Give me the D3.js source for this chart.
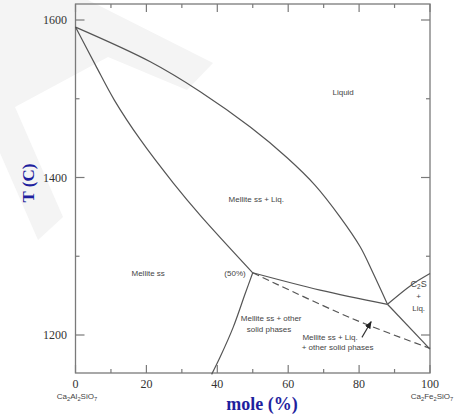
<!DOCTYPE html>
<html><head><meta charset="utf-8">
<script src="https://cdn.jsdelivr.net/npm/d3@7/dist/d3.min.js"></script>
<style>body{margin:0;background:#fff}svg{display:block}</style>
</head><body>
<script>
// ---- data (mole % Ca2Fe2SiO7, T in C) ----
const liquidus = [[0,1591],[21.1,1547],[35.2,1509],[49.3,1464],[59.7,1425],[67.6,1390],[74.6,1350],[80.3,1312],[83.9,1279],[88,1239]];
const solidus = [[0,1591],[5.6,1543],[11,1498],[18.3,1448],[27.6,1393],[35.2,1352],[50,1279]];
const peritecticLine = [[50,1279],[69,1257],[88,1239]];
const dashedLine = [[50,1279],[78,1221],[100,1183]];
const eutecticRight = [[88,1239],[100,1182]];
const c2sLiquidus = [[88,1239],[94.6,1263],[100,1278]];
const solvus = [[50,1279],[47.9,1253],[44.5,1210],[40.8,1172],[38.4,1150]];
const arrowPts = [[80.8,1197],[83.4,1217]];
const xTicks = [0,10,20,30,40,50,60,70,80,90,100];
const xTickLabels = [0,20,40,60,80,100];
const yTicks = [1200,1300,1400,1500,1600];
const yTickLabels = [1200,1400,1600];
const regionLabels = [
  {t:"Liquid", x:75.5, y:1509, a:"middle"},
  {t:"Mellite ss + Liq.", x:51, y:1373, a:"middle"},
  {t:"Mellite ss", x:20.5, y:1279, a:"middle"},
  {t:"(50%)", x:45, y:1279, a:"middle"},
  {t:"Mellite ss + other", x:55.2, y:1221, a:"middle"},
  {t:"solid phases", x:54.6, y:1207, a:"middle"},
  {t:"Mellite ss + Liq.", x:64, y:1198, a:"start"},
  {t:"+ other solid phases", x:63.8, y:1185, a:"start"},
  {t:"+", x:96.8, y:1250, a:"middle"},
  {t:"Liq.", x:96.8, y:1234, a:"middle"}
];

const W=464,H=415;
const svg=d3.select("body").append("svg").attr("width",W).attr("height",H);

// watermark
svg.append("polygon")
  .attr("points",[[0,0],[88,0],[213,63],[187,90],[108,57],[15,107],[63,217],[38,240],[0,153]].map(p=>p.join(",")).join(" "))
  .attr("fill","#f4f4f4");

const x=d3.scaleLinear().domain([0,100]).range([75.5,430]);
const y=d3.scaleLinear().domain([1200,1600]).range([335,20]);
const yTop=y.invert(4), yBot=y.invert(373);

const gray="#7a7a7a";
// frame
svg.append("rect").attr("x",x(0)).attr("y",y(yTop)).attr("width",x(100)-x(0)).attr("height",y(yBot)-y(yTop))
  .attr("fill","none").attr("stroke",gray).attr("stroke-width",1.3);

// ticks
const tk=svg.append("g").attr("stroke",gray).attr("stroke-width",1.2);
xTicks.forEach(v=>{
  const len = v%20===0?8:4;
  tk.append("line").attr("x1",x(v)).attr("x2",x(v)).attr("y1",y(yBot)).attr("y2",y(yBot)-len);
  tk.append("line").attr("x1",x(v)).attr("x2",x(v)).attr("y1",y(yTop)).attr("y2",y(yTop)+len);
});
yTicks.forEach(v=>{
  const len = v%200===0?9:4;
  tk.append("line").attr("x1",x(0)).attr("x2",x(0)+len).attr("y1",y(v)).attr("y2",y(v));
  tk.append("line").attr("x1",x(100)).attr("x2",x(100)-len).attr("y1",y(v)).attr("y2",y(v));
});

const serif="'Liberation Serif','DejaVu Serif',serif";
const sans="'Liberation Sans',Arial,sans-serif";
xTickLabels.forEach(v=>{
  svg.append("text").attr("x",x(v)).attr("y",388).attr("text-anchor","middle")
    .attr("font-family",serif).attr("font-size",12).attr("fill","#333").text(v);
});
yTickLabels.forEach(v=>{
  svg.append("text").attr("x",67).attr("y",y(v)+4).attr("text-anchor","end")
    .attr("font-family",serif).attr("font-size",12).attr("fill","#333").text(v);
});

// formula labels with subscripts
function formula(cx,cy,parts,fs){
  const t=svg.append("text").attr("x",cx).attr("y",cy).attr("text-anchor","middle")
    .attr("font-family",sans).attr("font-size",fs).attr("fill","#444");
  parts.forEach(p=>{
    const s=t.append("tspan").text(p.s);
    if(p.sub) s.attr("font-size",fs*0.72).attr("baseline-shift","-25%");
  });
}
formula(77,399,[{s:"Ca"},{s:"2",sub:1},{s:"Al"},{s:"2",sub:1},{s:"SiO"},{s:"7",sub:1}],8);
formula(432,399,[{s:"Ca"},{s:"2",sub:1},{s:"Fe"},{s:"2",sub:1},{s:"SiO"},{s:"7",sub:1}],8);
formula(x(96.8),y(1265)+3,[{s:"C"},{s:"2",sub:1},{s:"S"}],9);

// axis titles
svg.append("text").attr("x",262).attr("y",410).attr("text-anchor","middle")
  .attr("font-family",serif).attr("font-weight","bold").attr("font-size",18).attr("fill","#1f1f9e").text("mole (%)");
svg.append("text").attr("transform","translate(34,183) rotate(-90)").attr("text-anchor","middle")
  .attr("font-family",serif).attr("font-weight","bold").attr("font-size",17).attr("fill","#1f1f9e").text("T (C)");

// curves
const line=d3.line().x(d=>x(d[0])).y(d=>y(d[1])).curve(d3.curveCatmullRom.alpha(0.5));
const curveColor="#555";
[liquidus,solidus,peritecticLine,eutecticRight,c2sLiquidus,solvus].forEach(data=>{
  svg.append("path").attr("d",line(data)).attr("fill","none").attr("stroke",curveColor).attr("stroke-width",1.2);
});
svg.append("path").attr("d",line(dashedLine)).attr("fill","none").attr("stroke",curveColor)
  .attr("stroke-width",1.2).attr("stroke-dasharray","7,4");

// arrow
svg.append("defs").append("marker").attr("id","ah").attr("viewBox","0 0 10 10").attr("refX",9).attr("refY",5)
  .attr("markerWidth",7).attr("markerHeight",7).attr("orient","auto")
  .append("path").attr("d","M0,1L10,5L0,9Z").attr("fill","#222");
svg.append("line").attr("x1",x(arrowPts[0][0])).attr("y1",y(arrowPts[0][1]))
  .attr("x2",x(arrowPts[1][0])).attr("y2",y(arrowPts[1][1]))
  .attr("stroke","#333").attr("stroke-width",1.1).attr("marker-end","url(#ah)");

// region labels
regionLabels.forEach(l=>{
  svg.append("text").attr("x",x(l.x)).attr("y",y(l.y)+3).attr("text-anchor",l.a)
    .attr("font-family",sans).attr("font-size",8).attr("fill","#444").text(l.t);
});
</script>
</body></html>
